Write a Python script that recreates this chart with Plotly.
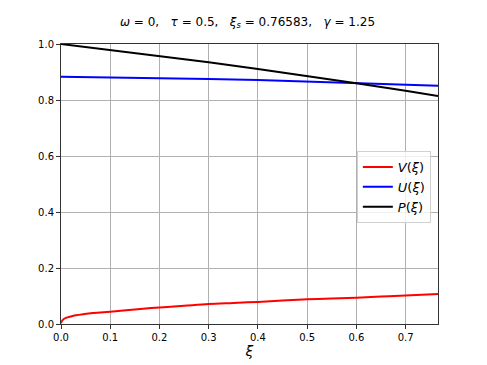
import plotly.graph_objects as go

# values
xi = [0.0, 0.002, 0.005, 0.01, 0.02, 0.03, 0.045, 0.06, 0.08, 0.1, 0.15, 0.2, 0.25,
      0.3, 0.35, 0.4, 0.45, 0.5, 0.55, 0.6, 0.65, 0.7, 0.76583]
v_vals = [0.003, 0.011, 0.017, 0.022, 0.027, 0.031, 0.035, 0.038, 0.041, 0.044, 0.052,
          0.059, 0.065, 0.071, 0.075, 0.079, 0.084, 0.088, 0.091, 0.094, 0.098, 0.102, 0.107]

xi_up = [0.0, 0.1, 0.2, 0.3, 0.4, 0.5, 0.6, 0.7, 0.76583]
u_vals = [0.883, 0.881, 0.878, 0.875, 0.871, 0.866, 0.861, 0.855, 0.851]
p_vals = [1.0, 0.979, 0.958, 0.935, 0.911, 0.886, 0.860, 0.833, 0.814]

x_ticks = [0.0, 0.1, 0.2, 0.3, 0.4, 0.5, 0.6, 0.7]
y_ticks = [0.0, 0.2, 0.4, 0.6, 0.8, 1.0]

fig = go.Figure()
fig.add_trace(go.Scatter(x=xi, y=v_vals, mode="lines", name="<i>V</i>(<i>ξ</i>)",
                         line=dict(color="red", width=2, shape="spline")))
fig.add_trace(go.Scatter(x=xi_up, y=u_vals, mode="lines", name="<i>U</i>(<i>ξ</i>)",
                         line=dict(color="blue", width=2)))
fig.add_trace(go.Scatter(x=xi_up, y=p_vals, mode="lines", name="<i>P</i>(<i>ξ</i>)",
                         line=dict(color="black", width=2)))

axis_style = dict(
    showline=True, linecolor="#333", linewidth=1, mirror=True,
    ticks="outside", ticklen=4, tickcolor="#333",
    showgrid=True, gridcolor="#b0b0b0", gridwidth=1, zeroline=False,
    tickfont=dict(size=10, color="black"), automargin=False,
)

# the page body adds an 8px offset, so the figure is 8px smaller each way
fig.update_layout(
    width=479, height=357,
    margin=dict(l=53, r=49, t=36, b=41),
    paper_bgcolor="white", plot_bgcolor="white",
    font=dict(family="DejaVu Sans", color="black"),
    title=dict(text="<i>ω</i> = 0,   <i>τ</i> = 0.5,   <i>ξ<sub>s</sub></i> = 0.76583,   <i>γ</i> = 1.25",
               x=0.5, xanchor="center", y=0.962, yanchor="middle", font=dict(size=12)),
    xaxis=dict(range=[0, 0.76583], tickvals=x_ticks, tickformat=".1f",
               title=dict(text="<i>ξ</i>", font=dict(size=14), standoff=4), **axis_style),
    yaxis=dict(range=[0, 1.0], tickvals=y_ticks, tickformat=".1f", **axis_style),
    showlegend=True,
    legend=dict(x=0.981, y=0.618, xanchor="right", yanchor="top",
                bgcolor="rgba(255,255,255,0.8)", bordercolor="#d0d0d0", borderwidth=1,
                font=dict(size=13), tracegroupgap=0, itemwidth=30),
)

fig.write_html("out.html")
